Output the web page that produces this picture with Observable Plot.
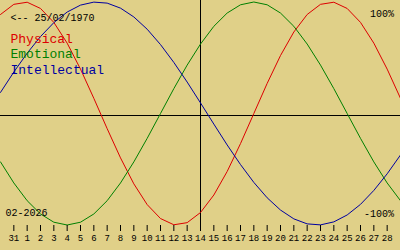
<!DOCTYPE html>
<html>
<head>
<meta charset="utf-8">
<script src="https://cdn.jsdelivr.net/npm/d3@7"></script>
<script src="https://cdn.jsdelivr.net/npm/@observablehq/plot@0.6"></script>
<style>
  html, body { margin: 0; padding: 0; background: #e0d088; }
</style>
</head>
<body>
<div id="chart"></div>
<script>
// ---- data ----
const birthDate = "25/02/1970";
const monthLabel = "02-2026";
const todayDay = 14;
const seriesNames = ["Physical", "Emotional", "Intellectual"];
const days = [-1, 0, 1, 2, 3, 4, 5, 6, 7, 8, 9, 10, 11, 12, 13, 14, 15, 16, 17, 18, 19, 20, 21, 22, 23, 24, 25, 26, 27, 28, 29];
const physical = [0.888, 0.979, 0.998, 0.942, 0.817, 0.631, 0.398, 0.136, -0.136, -0.398, -0.631, -0.817, -0.942, -0.998, -0.979, -0.888, -0.731, -0.520, -0.270, 0.000, 0.270, 0.520, 0.731, 0.888, 0.979, 0.998, 0.942, 0.817, 0.631, 0.398, 0.136];
const emotional = [-0.434, -0.623, -0.782, -0.901, -0.975, -1.000, -0.975, -0.901, -0.782, -0.623, -0.434, -0.223, 0.000, 0.223, 0.434, 0.623, 0.782, 0.901, 0.975, 1.000, 0.975, 0.901, 0.782, 0.623, 0.434, 0.223, 0.000, -0.223, -0.434, -0.623, -0.782];
const intellectual = [0.189, 0.372, 0.541, 0.690, 0.815, 0.910, 0.972, 0.999, 0.990, 0.945, 0.866, 0.756, 0.618, 0.458, 0.282, 0.095, -0.095, -0.282, -0.458, -0.618, -0.756, -0.866, -0.945, -0.990, -0.999, -0.972, -0.910, -0.815, -0.690, -0.541, -0.372];
const tickDays = [0, 1, 2, 3, 4, 5, 6, 7, 8, 9, 10, 11, 12, 13, 14, 15, 16, 17, 18, 19, 20, 21, 22, 23, 24, 25, 26, 27, 28];
const tickLabels = ["31", "1", "2", "3", "4", "5", "6", "7", "8", "9", "10", "11", "12", "13", "14", "15", "16", "17", "18", "19", "20", "21", "22", "23", "24", "25", "26", "27", "28"];
const maxLabel = "100%";
const minLabel = "-100%";

// ---- styles ----
const colors = ["#dd0000", "#008000", "#0000a0"];
const mono = "'Liberation Mono', 'DejaVu Sans Mono', monospace";

const seriesValues = [physical, emotional, intellectual];
const table = seriesNames.flatMap((name, s) =>
  days.map((d, i) => ({series: name, day: d, value: seriesValues[s][i]})));

const marks = [
  Plot.ruleY([0], {stroke: "black", dy: 2}),
  Plot.ruleX([todayDay], {stroke: "black", insetBottom: -6}),
  ...seriesNames.map((name, s) =>
    Plot.line(table.filter(r => r.series === name), {x: "day", y: "value", stroke: colors[s], strokeWidth: 1})),
  Plot.axisX(tickDays, {
    anchor: "bottom",
    label: null,
    tickSize: 6,
    tickPadding: 3,
    tickFormat: d => tickLabels[tickDays.indexOf(d)],
    fontSize: 9,
    fill: "black",
    stroke: "black"
  }),
  Plot.text(["<-- " + birthDate], {frameAnchor: "top-left", textAnchor: "start", lineAnchor: "bottom", dx: 10, dy: 20.5, fontSize: 10, fill: "black"}),
  ...seriesNames.map((name, s) =>
    Plot.text([name], {frameAnchor: "top-left", textAnchor: "start", lineAnchor: "bottom", dx: 10, dy: 42 + 15.75 * s, fontSize: 13, fill: colors[s]})),
  Plot.text([maxLabel], {frameAnchor: "top-right", textAnchor: "end", lineAnchor: "bottom", dx: -6.5, dy: 16, fontSize: 10, fill: "black"}),
  Plot.text([minLabel], {frameAnchor: "top-right", textAnchor: "end", lineAnchor: "bottom", dx: -6.5, dy: 216, fontSize: 10, fill: "black"}),
  Plot.text([monthLabel], {frameAnchor: "top-left", textAnchor: "start", lineAnchor: "bottom", dx: 5, dy: 215.5, fontSize: 10, fill: "black"})
];

const chart = Plot.plot({
  width: 400,
  height: 250,
  marginTop: 0,
  marginRight: 0,
  marginBottom: 25,
  marginLeft: 0,
  x: {domain: [-1, 29], range: [0, 400], axis: null},
  y: {domain: [-1, 1], range: [224.5, 1.5], axis: null},
  style: {background: "#e0d088", fontFamily: mono, color: "black", overflow: "visible"},
  marks
});
document.getElementById("chart").appendChild(chart);
</script>
</body>
</html>
